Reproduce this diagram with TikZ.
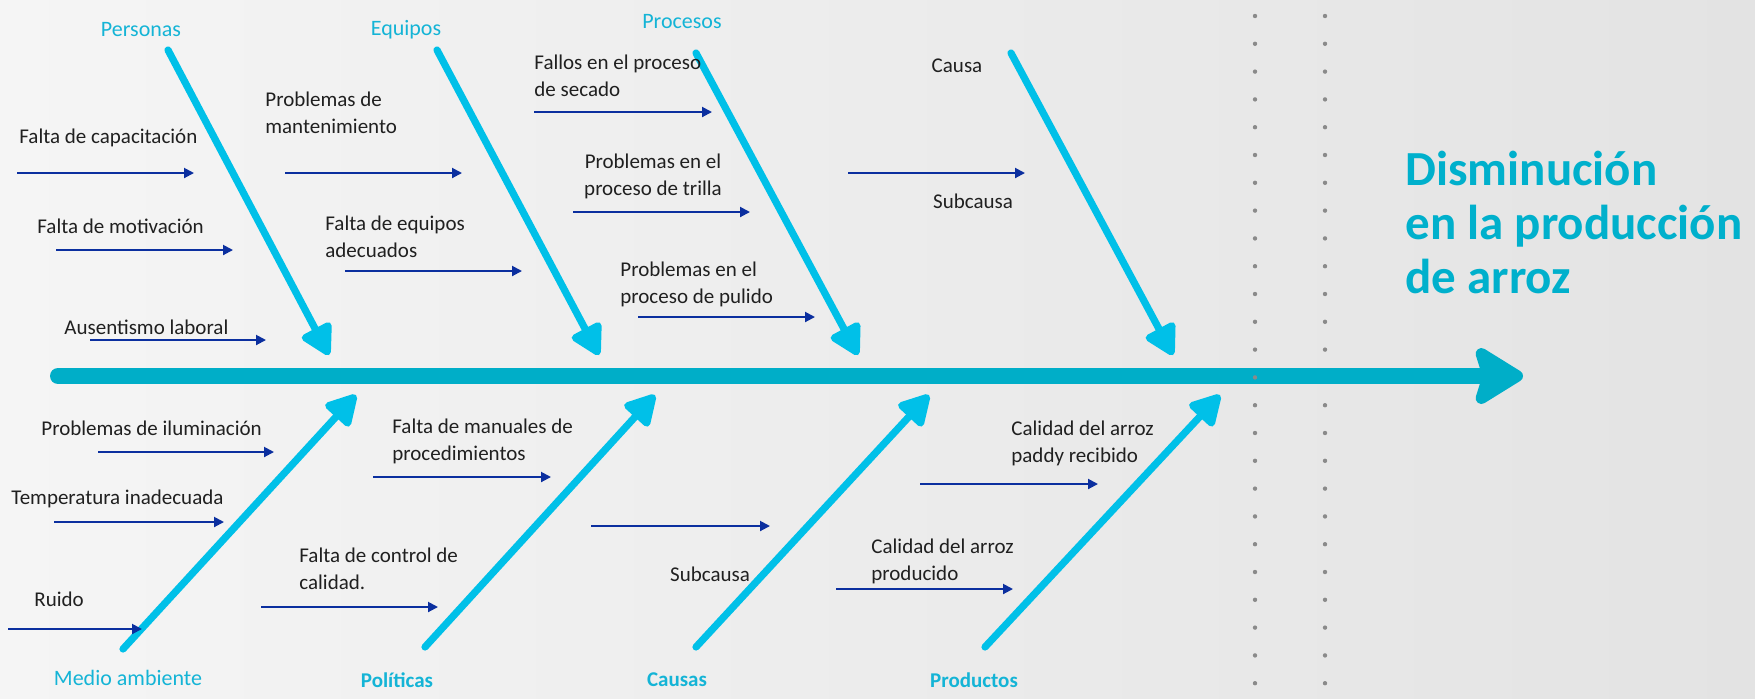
\documentclass[tikz,border=0pt]{standalone}
\usepackage{fontspec}
\setmainfont{Carlito}
\usetikzlibrary{arrows.meta}
\definecolor{bonec}{HTML}{00C0E8}
\definecolor{spinec}{HTML}{00AEC8}
\definecolor{catc}{HTML}{14B4D6}
\definecolor{ttlc}{HTML}{00B0CC}
\definecolor{navy}{HTML}{0B2F9F}
\definecolor{txt}{HTML}{202020}
\definecolor{dotc}{HTML}{8A8A8A}
\definecolor{bgL}{HTML}{F5F5F5}
\definecolor{bgR}{HTML}{E3E3E3}

\begin{document}
\begin{tikzpicture}[x=0.5pt, y=-0.5pt,
  every node/.style={inner sep=0pt, text=txt, font=\fontsize{10.5}{13.5}\selectfont},
  lbl/.style={anchor=west, align=left},
  catlbl/.style={text=catc, font=\fontsize{11}{13.5}\selectfont},
  ttl/.style={text=ttlc, align=left, anchor=west, font=\bfseries\fontsize{24.5}{27}\selectfont},
  spine/.style={spinec, line width=8pt, line cap=round, -{Stealth[length=28pt,width=34pt,inset=5pt,round]}},
  bone/.style={bonec, line width=3.6pt, line cap=round, -{Triangle[length=17pt,width=18pt,round]}},
  sub/.style={navy, line width=1pt, -{Triangle[length=5pt,width=5pt]}},
  guide/.style={dotc, line width=2.2pt, line cap=round, dash pattern=on 0pt off 13.9pt}]

\fill[left color=bgL, right color=bgR] (0,0) rectangle (1755,698);
\useasboundingbox (0,0) rectangle (1755,698);

% dotted guides and spine
\coordinate (G1) at (1255,16); \coordinate (G2) at (1255,684);
\coordinate (H1) at (1325,16); \coordinate (H2) at (1325,684);
\draw[guide] (H1) -- (H2);
\coordinate (S0) at (58,376);
\coordinate (S1) at (1523,376);
\draw[spine] (S0) -- (S1);
\draw[guide] (G1) -- (G2);

\node[ttl] (D) at (1405,222) {Disminución\\en la producción\\de arroz};

% upper bones
\coordinate (P0) at (168,50);  \coordinate (P1) at (329,355);
\coordinate (E0) at (437,50);  \coordinate (E1) at (599,355);
\coordinate (R0) at (696,53);  \coordinate (R1) at (858,355);
\coordinate (C0) at (1011,53); \coordinate (C1) at (1173,355);
\draw[bone] (P0) -- (P1);
\draw[bone] (E0) -- (E1);
\draw[bone] (R0) -- (R1);
\draw[bone] (C0) -- (C1);

\node[catlbl] (P) at (141,30) {Personas};
\node[catlbl] (E) at (406,30) {Equipos};
\node[catlbl] (R) at (682,22) {Procesos};

% lower bones
\coordinate (M0) at (123,649); \coordinate (M1) at (356,395);
\coordinate (L0) at (425,647); \coordinate (L1) at (655,395);
\coordinate (K0) at (696,647); \coordinate (K1) at (929,395);
\coordinate (Q0) at (985,647); \coordinate (Q1) at (1220,395);
\draw[bone] (M0) -- (M1);
\draw[bone] (L0) -- (L1);
\draw[bone] (K0) -- (K1);
\draw[bone] (Q0) -- (Q1);

\node[catlbl] (M) at (128,678) {Medio ambiente};
\node[catlbl, font=\bfseries\fontsize{10.5}{13.5}\selectfont] (L) at (397,680) {Políticas};
\node[catlbl, font=\bfseries\fontsize{10.5}{13.5}\selectfont] (K) at (677,680) {Causas};
\node[catlbl, font=\bfseries\fontsize{10.5}{13.5}\selectfont] (Q) at (974,680) {Productos};

% sub-causes, upper side
\node[lbl] (t1) at (19,138) {Falta de capacitación};
\coordinate (t1a) at (17,173); \coordinate (t1b) at (194,173);
\draw[sub] (t1a) -- (t1b);
\node[lbl] (t2) at (37,226) {Falta de motivación};
\coordinate (t2a) at (56,250); \coordinate (t2b) at (233,250);
\draw[sub] (t2a) -- (t2b);
\node[lbl] (t3) at (64,327) {Ausentismo laboral};
\coordinate (t3a) at (90,340); \coordinate (t3b) at (266,340);
\draw[sub] (t3a) -- (t3b);

\node[lbl] (t4) at (265,113) {Problemas de\\mantenimiento};
\coordinate (t4a) at (285,173); \coordinate (t4b) at (462,173);
\draw[sub] (t4a) -- (t4b);
\node[lbl] (t5) at (325,237) {Falta de equipos\\adecuados};
\coordinate (t5a) at (345,271); \coordinate (t5b) at (522,271);
\draw[sub] (t5a) -- (t5b);

\node[lbl] (t6) at (534,76) {Fallos en el proceso\\de secado};
\coordinate (t6a) at (534,112); \coordinate (t6b) at (712,112);
\draw[sub] (t6a) -- (t6b);
\node[align=center] (t7) at (653,176) {Problemas en el\\proceso de trilla};
\coordinate (t7a) at (573,212); \coordinate (t7b) at (750,212);
\draw[sub] (t7a) -- (t7b);
\node[lbl] (t8) at (620,284) {Problemas en el\\proceso de pulido};
\coordinate (t8a) at (638,317); \coordinate (t8b) at (815,317);
\draw[sub] (t8a) -- (t8b);

\node (t9) at (957,66) {Causa};
\coordinate (t9a) at (848,173); \coordinate (t9b) at (1025,173);
\draw[sub] (t9a) -- (t9b);
\node (t10) at (973,201) {Subcausa};

% sub-causes, lower side
\node[lbl] (b1) at (41,428) {Problemas de iluminación};
\coordinate (b1a) at (98,452); \coordinate (b1b) at (274,452);
\draw[sub] (b1a) -- (b1b);
\node[lbl] (b2) at (11,499) {Temperatura inadecuada};
\coordinate (b2a) at (54,522); \coordinate (b2b) at (224,522);
\draw[sub] (b2a) -- (b2b);
\node[lbl] (b3) at (34,599) {Ruido};
\coordinate (b3a) at (8,629); \coordinate (b3b) at (142,629);
\draw[sub] (b3a) -- (b3b);

\node[lbl] (b4) at (392,441) {Falta de manuales de\\procedimientos};
\coordinate (b4a) at (373,477); \coordinate (b4b) at (551,477);
\draw[sub] (b4a) -- (b4b);
\node[lbl] (b5) at (299,569) {Falta de control de\\calidad.};
\coordinate (b5a) at (261,607); \coordinate (b5b) at (438,607);
\draw[sub] (b5a) -- (b5b);

\coordinate (b6a) at (591,526); \coordinate (b6b) at (770,526);
\draw[sub] (b6a) -- (b6b);
\node (b6) at (710,574) {Subcausa};

\node[lbl] (b7) at (1011,443) {Calidad del arroz\\paddy recibido};
\coordinate (b7a) at (920,484); \coordinate (b7b) at (1098,484);
\draw[sub] (b7a) -- (b7b);
\node[lbl] (b8) at (871,561) {Calidad del arroz\\producido};
\coordinate (b8a) at (836,589); \coordinate (b8b) at (1013,589);
\draw[sub] (b8a) -- (b8b);
\end{tikzpicture}
\end{document}
